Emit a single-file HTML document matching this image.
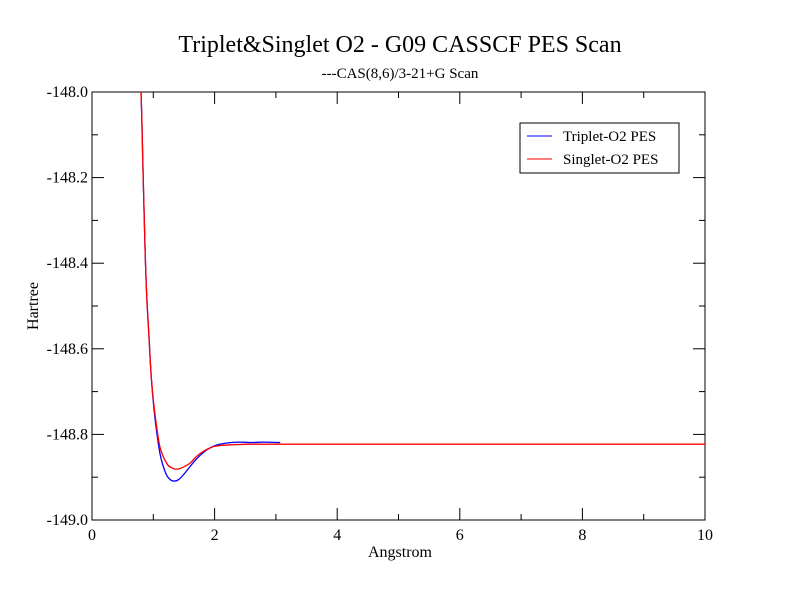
<!DOCTYPE html>
<html><head><meta charset="utf-8"><style>
body{margin:0;background:#fff}
svg{display:block;font-family:"Liberation Serif",serif}
</style></head><body>
<svg id="c" width="792" height="612">
<rect width="792" height="612" fill="#fff"/>
<text x="400" y="52" font-size="24" text-anchor="middle">Triplet&amp;Singlet O2 - G09 CASSCF PES Scan</text>
<text x="400" y="78" font-size="15" text-anchor="middle">---CAS(8,6)/3-21+G Scan</text>
<g id="axes"></g>
<g id="series"></g>
<text x="400" y="557" font-size="16" text-anchor="middle">Angstrom</text>
<text x="38" y="306" font-size="16" text-anchor="middle" transform="rotate(-90 38 306)">Hartree</text>
<g>
<rect x="520" y="123" width="159" height="50" fill="#fff" stroke="#000"/>
<line x1="527" y1="136" x2="552" y2="136" stroke="#0000ff"/>
<text x="563" y="141" font-size="15">Triplet-O2 PES</text>
<line x1="527" y1="159" x2="552" y2="159" stroke="#ff0000"/>
<text x="563" y="164" font-size="15">Singlet-O2 PES</text>
</g>
</svg>
<script>
const xTicks=[0,2,4,6,8,10];
const yTicks=[-148.0,-148.2,-148.4,-148.6,-148.8,-149.0];
const yTickLabels=["-148.0","-148.2","-148.4","-148.6","-148.8","-149.0"];
const tripletX=[0.80,0.81,0.84,0.865,0.89,0.93,0.97,1.03,1.11,1.20,1.27,1.34,1.42,1.50,1.60,1.70,1.81,1.92,2.03,2.20,2.40,2.60,2.80,3.07];
const tripletY=[-148.0,-148.05,-148.229,-148.361,-148.47,-148.572,-148.673,-148.765,-148.845,-148.89,-148.905,-148.909,-148.905,-148.893,-148.875,-148.858,-148.843,-148.832,-148.825,-148.820,-148.818,-148.819,-148.818,-148.819];
const singletX=[0.80,0.81,0.84,0.865,0.89,0.93,0.97,1.03,1.11,1.22,1.30,1.37,1.45,1.60,1.70,1.81,1.92,2.03,2.3,2.6,3,4,6,8,10];
const singletY=[-148.0,-148.05,-148.229,-148.361,-148.47,-148.572,-148.673,-148.755,-148.83,-148.868,-148.878,-148.881,-148.879,-148.867,-148.852,-148.840,-148.832,-148.827,-148.824,-148.823,-148.823,-148.823,-148.823,-148.823,-148.823];
const L=92,R=705,T=92,B=520;
const sx=v=>L+(v-0)/(10-0)*(R-L);
const sy=v=>T+(-148-v)/1*(B-T);
const NS="http://www.w3.org/2000/svg";
const ax=document.getElementById('axes');
function mk(t,a,p){const e=document.createElementNS(NS,t);for(const k in a)e.setAttribute(k,a[k]);(p||ax).appendChild(e);return e;}
const fr=mk('rect',{x:L,y:T,width:R-L,height:B-T,fill:'none',stroke:'#000','stroke-width':1});


for(let v=0;v<=10;v++){const x=sx(v);const len=(v%2===0)?12:6;
 const t1=mk('line',{x1:x,y1:B,x2:x,y2:B-len,stroke:'#000'});
 
 
 mk('line',{x1:x,y1:T,x2:x,y2:T+len,stroke:'#000'});}
for(let i=0;i<=10;i++){const v=-148-i*0.1;const y=sy(v);const len=(i%2===0)?12:6;
 const t2=mk('line',{x1:L,y1:y,x2:L+len,y2:y,stroke:'#000'});
 
 
 mk('line',{x1:R,y1:y,x2:R-len,y2:y,stroke:'#000'});}
xTicks.forEach(v=>{const t=mk('text',{x:sx(v),y:B+20,'font-size':16,'text-anchor':'middle'});t.textContent=String(v);
 
 });
yTicks.forEach((v,i)=>{const t=mk('text',{x:L-4,y:sy(v)+5,'font-size':16,'text-anchor':'end'});t.textContent=yTickLabels[i];
 
 });
const sg=document.getElementById('series');
function line(xs,ys,col,name){
 const P=xs.map((x,i)=>[sx(x),sy(ys[i])]);
 let d='M'+P[0][0].toFixed(1)+' '+P[0][1].toFixed(1);
 for(let i=0;i<P.length-1;i++){const p0=P[Math.max(0,i-1)],p1=P[i],p2=P[i+1],p3=P[Math.min(P.length-1,i+2)];
  const c1=[p1[0]+(p2[0]-p0[0])/6,p1[1]+(p2[1]-p0[1])/6],c2=[p2[0]-(p3[0]-p1[0])/6,p2[1]-(p3[1]-p1[1])/6];
  d+=' C'+c1.map(v=>v.toFixed(1)).join(' ')+' '+c2.map(v=>v.toFixed(1)).join(' ')+' '+p2[0].toFixed(1)+' '+p2[1].toFixed(1);}
 const p=mk('path',{d:d,fill:'none',stroke:col,'stroke-width':1.3},sg);
 
 }
line(tripletX,tripletY,'#0000ff','triplet-line');
line(singletX,singletY,'#ff0000','singlet-line');
</script>
</body></html>
